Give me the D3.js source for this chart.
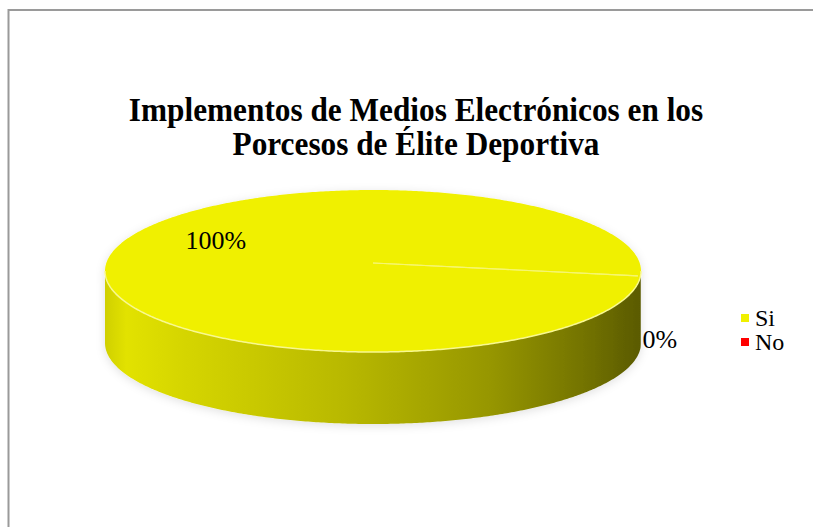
<!DOCTYPE html>
<html>
<head>
<meta charset="utf-8">
<script src="https://cdn.jsdelivr.net/npm/d3@7"></script>
<style>
  html, body { margin: 0; padding: 0; background: #fff; overflow: hidden; }
  svg { display: block; }
  text { font-family: "Liberation Serif", "Times New Roman", serif; }
</style>
</head>
<body>
<svg id="chart" width="813" height="527"></svg>
<script>
// Chart data
const titleLines = ["Implementos de Medios Electrónicos en los", "Porcesos de Élite Deportiva"];
const categories = ["Si", "No"];
const values = [100, 0];
const percentLabels = ["100%", "0%"];
const sliceColors = ["#f0f000", "#ff0000"];

const W = 813, H = 527;
const svg = d3.select("#chart");

// Chart frame: only its top and left edges fall inside the page
svg.append("path")
  .attr("d", `M8.5,${H} V10 H${W}`)
  .attr("fill", "none")
  .attr("stroke", "#9a9a9a").attr("stroke-width", 2);

// Title (Times-like bold, slightly condensed)
const titleSize = 34, condense = 0.92;
titleLines.forEach((t, i) => {
  const el = svg.append("text")
    .attr("x", 416).attr("y", 121 + i * 34)
    .attr("text-anchor", "middle")
    .attr("font-size", titleSize).attr("font-weight", "bold")
    .text(t);
  const w = el.node().getComputedTextLength();
  el.attr("textLength", w * condense).attr("lengthAdjust", "spacingAndGlyphs");
});

// 3D pie geometry
const cx = 373, cy = 271, rx = 268, ry = 81, depth = 72;
const proj = (a, r = 1, dy = 0) => [cx + rx * r * Math.sin(a), cy - ry * r * Math.cos(a) + dy];

const start = Math.PI / 2 + 0.06;
const pie = d3.pie().sort(null).value(d => d).startAngle(start).endAngle(start + 2 * Math.PI);
const arcs = pie(values);

const defs = svg.append("defs");
const grad = defs.append("linearGradient")
  .attr("id", "sideGrad").attr("gradientUnits", "userSpaceOnUse")
  .attr("x1", cx - rx).attr("x2", cx + rx).attr("y1", 0).attr("y2", 0);
[[0, "#d0d000"], [0.04, "#e2e200"], [0.14, "#d6d600"], [0.45, "#b8b800"],
 [0.72, "#969600"], [0.9, "#727200"], [1, "#5a5a00"]]
  .forEach(([o, c]) => grad.append("stop").attr("offset", o).attr("stop-color", c));

const redGrad = defs.append("linearGradient")
  .attr("id", "sideGradRed").attr("gradientUnits", "userSpaceOnUse")
  .attr("x1", cx - rx).attr("x2", cx + rx).attr("y1", 0).attr("y2", 0);
[[0, "#e00000"], [1, "#600000"]]
  .forEach(([o, c]) => redGrad.append("stop").attr("offset", o).attr("stop-color", c));

const shadow = defs.append("filter").attr("id", "halo")
  .attr("x", "-10%").attr("y", "-20%").attr("width", "120%").attr("height", "140%");
shadow.append("feDropShadow")
  .attr("dx", 0).attr("dy", 2).attr("stdDeviation", 5)
  .attr("flood-color", "#000").attr("flood-opacity", 0.12);

const line = d3.line();
const sample = (a0, a1, dy = 0) => {
  const n = Math.max(2, Math.ceil(Math.abs(a1 - a0) / 0.01));
  return d3.range(n + 1).map(i => proj(a0 + (a1 - a0) * i / n, 1, dy));
};

// Front-facing angle ranges (where the side wall is visible)
function frontParts(a0, a1) {
  const parts = [];
  for (let k = -1; k <= 2; k++) {
    const lo = Math.max(a0, Math.PI / 2 + 2 * Math.PI * k);
    const hi = Math.min(a1, 3 * Math.PI / 2 + 2 * Math.PI * k);
    if (hi > lo) parts.push([lo, hi]);
  }
  return parts;
}

const pieG = svg.append("g").attr("filter", "url(#halo)");

// Side walls
arcs.forEach((d, i) => {
  frontParts(d.startAngle, d.endAngle).forEach(([lo, hi]) => {
    const pts = sample(lo, hi).concat(sample(hi, lo, depth));
    pieG.append("path")
      .attr("d", line(pts) + "Z")
      .attr("fill", i === 0 ? "url(#sideGrad)" : "url(#sideGradRed)");
  });
});

// Top faces
arcs.forEach((d, i) => {
  if (d.endAngle - d.startAngle <= 0) return;
  const pts = [[cx, cy]].concat(sample(d.startAngle, d.endAngle));
  pieG.append("path")
    .attr("d", line(pts) + "Z")
    .attr("fill", sliceColors[i]);
});

// Light rim along the front edge of the top face
pieG.append("path")
  .attr("d", line(sample(Math.PI / 2, 3 * Math.PI / 2)))
  .attr("fill", "none").attr("stroke", "#f8f890").attr("stroke-width", 1.5);

// Slice boundary on the top face
arcs.forEach(d => {
  pieG.append("path")
    .attr("d", line([[cx, cy - 8], proj(d.startAngle, 0.99)]))
    .attr("stroke", "#f6f670").attr("stroke-width", 1.2).attr("fill", "none");
});

// Data labels
const labelPos = [
  { anchor: "middle", at: d => { const p = proj(-1.05, 0.62); return [p[0] - 13, p[1] + 3]; } },
  { anchor: "start", at: d => { const p = proj(d.startAngle, 1, depth * 0.98); return [p[0] + 2, p[1] + 2]; } }
];
arcs.forEach((d, i) => {
  const [x, y] = labelPos[i].at(d);
  svg.append("text")
    .attr("x", x).attr("y", y)
    .attr("text-anchor", labelPos[i].anchor)
    .attr("font-size", 26)
    .text(percentLabels[i]);
});

// Legend
const legendY = d3.scalePoint().domain(categories).range([318, 342]);
const legend = svg.append("g");
categories.forEach((c, i) => {
  legend.append("rect")
    .attr("x", 741).attr("y", legendY(c) - 4)
    .attr("width", 8).attr("height", 8)
    .attr("fill", sliceColors[i]);
  legend.append("text")
    .attr("x", 755).attr("y", legendY(c) + 8)
    .attr("font-size", 24)
    .text(c);
});
</script>
</body>
</html>
